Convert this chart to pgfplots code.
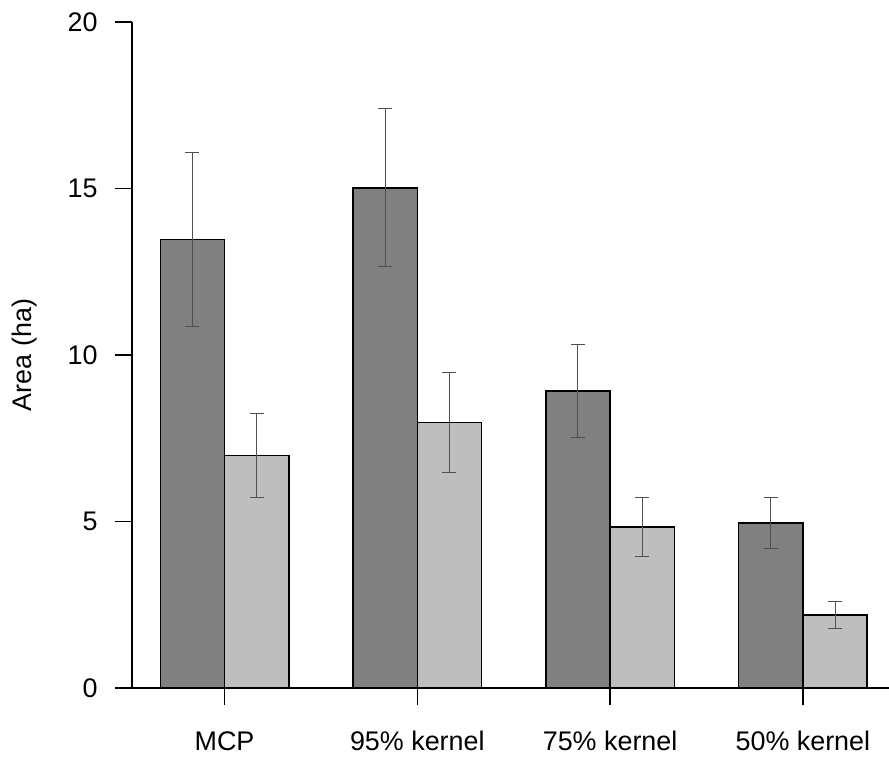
\documentclass[border=0pt]{standalone}
\usepackage{pgfplots}
\pgfplotsset{compat=1.18}
\usepackage{fontspec}
\setmainfont{Liberation Sans}
\definecolor{darkbar}{HTML}{808080}
\definecolor{lightbar}{HTML}{BEBEBE}
\definecolor{errc}{HTML}{505050}
\begin{document}
\begin{tikzpicture}
\path[use as bounding box] (-66bp,-36.5bp) rectangle (378.5bp,344bp);
\begin{axis}[
  width=378.5bp, height=333bp, scale only axis,
  xmin=0.56, xmax=12.34, ymin=0, ymax=20,
  axis x line*=bottom, axis y line*=left,
  axis line style={line width=0.8bp, black},
  xtick={2,5,8,11},
  xticklabels={MCP, 95\% kernel, 75\% kernel, 50\% kernel},
  ytick={0,5,10,15,20},
  tick align=outside, major tick length=8.25bp,
  tick style={black, line width=0.8bp},
  /pgf/number format/assume math mode=true,
  tick label style={font=\fontsize{13.5}{16}\selectfont},
  xticklabel style={anchor=base, inner sep=0pt, yshift=-22.75bp},
  yticklabel style={anchor=east, inner sep=0pt, xshift=-8.75bp},
  ylabel={Area (ha)},
  ylabel style={at={(axis description cs:-0.1413,0.5)}, anchor=center, font=\fontsize{13.5}{16}\selectfont},
  clip=false,
]
\addplot[ybar, bar width=1, bar shift=0pt, fill=darkbar, draw=black, line width=0.75bp,
  error bars/.cd, y dir=both, y explicit,
  error bar style={errc, line width=0.5bp},
  error mark options={rotate=90, mark size=3.5bp, errc, line width=0.5bp}]
coordinates {
  (1.5,13.47) +- (0,2.60)
  (4.5,15.02) +- (0,2.37)
  (7.5,8.92)  +- (0,1.41)
  (10.5,4.95) +- (0,0.77)
};
\addplot[ybar, bar width=1, bar shift=0pt, fill=lightbar, draw=black, line width=0.75bp,
  error bars/.cd, y dir=both, y explicit,
  error bar style={errc, line width=0.5bp},
  error mark options={rotate=90, mark size=3.5bp, errc, line width=0.5bp}]
coordinates {
  (2.5,6.98)  +- (0,1.26)
  (5.5,7.97)  +- (0,1.50)
  (8.5,4.84)  +- (0,0.88)
  (11.5,2.19) +- (0,0.40)
};
\end{axis}
\end{tikzpicture}
\end{document}
